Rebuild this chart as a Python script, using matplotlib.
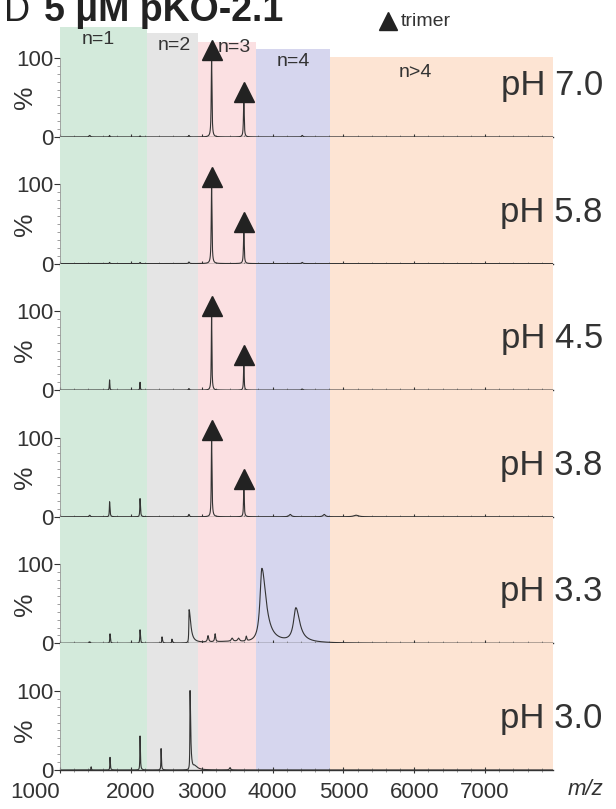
import numpy as np
import matplotlib.pyplot as plt
from matplotlib.ticker import MultipleLocator, FixedLocator

plt.rcParams['font.family'] = ['Liberation Sans', 'DejaVu Sans']

# m/z range and oligomer bands
mz_min, mz_max = 1000, 7960
band_edges = [1000, 2230, 2950, 3770, 4810, 7960]
band_colors = ['#d3eadb', '#e5e5e5', '#fbe0e2', '#d6d6ee', '#fde4d3']
band_labels = ['n=1', 'n=2', 'n=3', 'n=4', 'n>4']
band_tops = [139, 132, 120, 111, 101]          # top panel step heights
label_x = [1540, 2610, 3460, 4300, 6010]
label_y = [123, 116, 113, 95, 82]

ph_labels = ['pH 7.0', 'pH 5.8', 'pH 4.5', 'pH 3.8', 'pH 3.3', 'pH 3.0']

# peaks per panel: m/z, relative intensity (%), left width, right width
peaks_70 = [(3140, 100, 6, 6), (3595, 47, 6, 6), (1420, 2, 10, 10), (1700, 2, 5, 5),
            (2130, 1.5, 5, 5), (2820, 2, 8, 8), (4420, 2, 10, 10)]
peaks_58 = [(3140, 100, 6, 6), (3595, 42, 6, 6), (1700, 1.5, 5, 5), (2130, 1.5, 5, 5),
            (2820, 2, 8, 8), (4420, 1.5, 10, 10)]
peaks_45 = [(3140, 97, 5, 5), (3595, 34, 5, 5), (1700, 13, 4, 4), (2130, 10, 4, 4),
            (2820, 2, 8, 8), (4420, 1.5, 10, 10)]
peaks_38 = [(3140, 100, 5, 6), (3595, 38, 5, 6), (1700, 19, 4, 6), (2130, 23, 4, 6),
            (1420, 2, 8, 8), (2820, 3, 8, 8), (4250, 3, 20, 20), (4730, 3, 20, 20),
            (5180, 2, 40, 40)]
peaks_33 = [(3850, 94, 32, 70), (4330, 43, 40, 65), (2822, 42, 4, 28), (1706, 12, 4, 6),
            (2130, 17, 4, 6), (2440, 8, 4, 8), (2580, 5, 4, 8), (3090, 8, 10, 10),
            (3190, 10, 8, 8), (3430, 4, 15, 15), (3520, 4, 15, 15), (3630, 6, 8, 8),
            (1420, 2, 8, 8), (3350, 2, 300, 300)]
peaks_30 = [(2836, 100, 3, 10), (2130, 43, 3, 5), (2427, 27, 3, 5), (1706, 16, 3, 5),
            (1440, 4, 4, 4), (3400, 3, 10, 10), (2900, 4, 20, 50)]
all_peaks = [peaks_70, peaks_58, peaks_45, peaks_38, peaks_33, peaks_30]

# trimer markers (m/z, height) per panel
trimer_70 = [(3140, 100), (3595, 47)]
trimer_58 = [(3140, 100), (3595, 42)]
trimer_45 = [(3140, 97), (3595, 34)]
trimer_38 = [(3140, 100), (3595, 38)]
all_trimers = [trimer_70, trimer_58, trimer_45, trimer_38, [], []]

mz = np.arange(mz_min, mz_max + 1, 1.0)


def spectrum(peaks):
    y = np.zeros_like(mz)
    for c, h, gl, gr in peaks:
        g = np.where(mz < c, gl, gr)
        y += h / (1 + ((mz - c) / g) ** 2)
    return y


W, H = 616, 809
fig = plt.figure(figsize=(W / 100, H / 100), dpi=100)
left, right = 60, 553
base0, step = 137, 126.6
ytop = 160
ink = '#333333'

axes = []
for i in range(6):
    baseline = base0 + step * i
    ax = fig.add_axes([left / W, 1 - baseline / H, (right - left) / W, step / H])
    axes.append(ax)
    ax.set_xlim(mz_min, mz_max)
    ax.set_ylim(0, ytop)
    for j in range(5):
        h = band_tops[j] if i == 0 else ytop
        ax.bar(band_edges[j], h, width=band_edges[j + 1] - band_edges[j],
               align='edge', color=band_colors[j], linewidth=0, zorder=0)
    ax.plot(mz, spectrum(all_peaks[i]), color=ink, lw=0.8, zorder=2)
    for c, h in all_trimers[i]:
        ax.plot(c, h + 10, marker='^', ms=14, color='#222222', zorder=3, clip_on=False)

    ax.patch.set_visible(False)
    for s in ['top', 'right']:
        ax.spines[s].set_visible(False)
    ax.spines['left'].set_bounds(0, 100)
    ax.spines['left'].set_color('#999999')
    ax.spines['left'].set_linewidth(0.6)
    ax.spines['bottom'].set_color(ink)
    ax.spines['bottom'].set_linewidth(1.0)

    ax.set_yticks([0, 100])
    ax.yaxis.set_minor_locator(FixedLocator(range(10, 100, 10)))
    ax.tick_params(axis='y', which='major', length=4, width=0.8, color=ink,
                   labelsize=16, labelcolor=ink, pad=1)
    ax.tick_params(axis='y', which='minor', length=2, width=0.5, color='#777777')
    ax.xaxis.set_major_locator(MultipleLocator(1000))
    ax.xaxis.set_minor_locator(MultipleLocator(200))
    ax.tick_params(axis='x', which='major', direction='inout', length=5, width=0.8,
                   color=ink, labelsize=16, labelcolor=ink, pad=6)
    ax.tick_params(axis='x', which='minor', direction='inout', length=3, width=0.5,
                   color='#777777')
    if i < 5:
        ax.tick_params(axis='x', labelbottom=False)

    ax.set_ylabel('%', fontsize=19, color=ink)
    ax.yaxis.set_label_coords(-0.047, 50 / ytop)
    ax.text(1.101, 65, ph_labels[i], transform=ax.get_yaxis_transform(),
            ha='right', va='center', fontsize=25, color=ink)

axes[-1].set_xticks(range(1000, 8000, 1000))
axes[-1].get_xticklabels()[0].set_horizontalalignment('right')
axes[-1].text(1.065, -0.075, 'm/z', transform=axes[-1].transAxes, fontsize=16,
              style='italic', color=ink, ha='center', va='top')

# band labels in top panel
for j in range(5):
    axes[0].text(label_x[j], label_y[j], band_labels[j], ha='center', va='center',
                 fontsize=14, color=ink, zorder=4)

# title and legend
fig.text(4 / W, 1 - 21 / H, 'D', fontsize=26, color='#222222', va='baseline')
fig.text(44 / W, 1 - 21 / H, '5 μM pKO-2.1', fontsize=27, fontweight='bold',
         color='#222222', va='baseline')
fig.lines.append(plt.Line2D([388 / W], [1 - 21 / H], marker='^', ms=13,
                            color='#222222', transform=fig.transFigure))
fig.text(401 / W, 1 - 21 / H, 'trimer', fontsize=14, color=ink, va='center')

fig.savefig('out.png', dpi=100)
